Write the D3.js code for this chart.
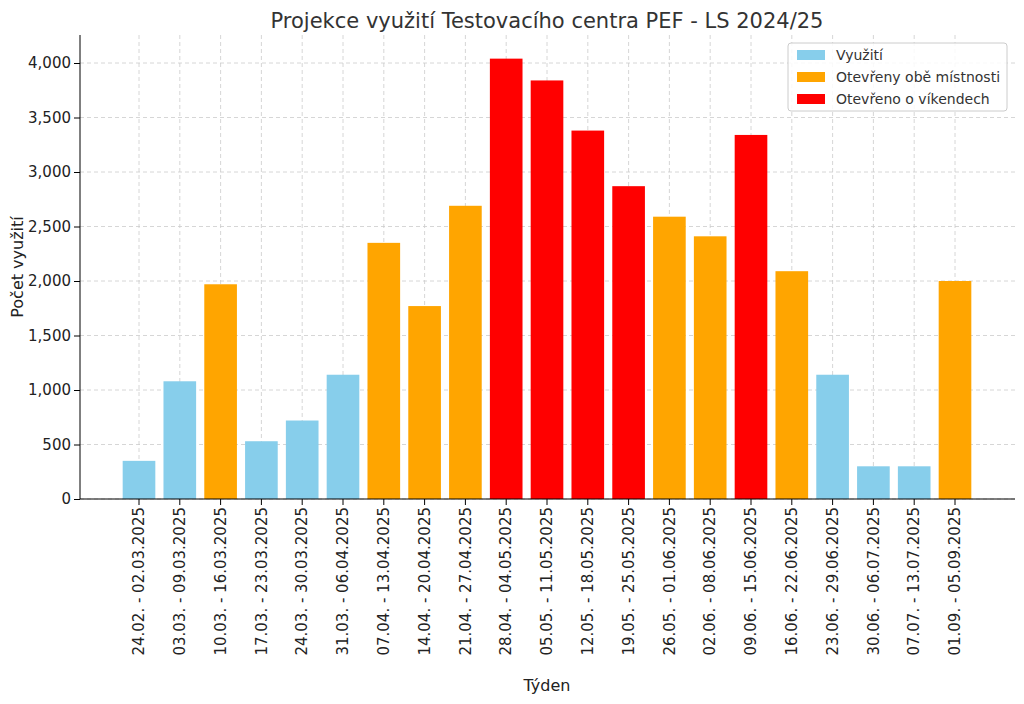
<!DOCTYPE html><html><head><meta charset="utf-8"><script src="https://cdn.jsdelivr.net/npm/d3@7"></script>
<style>body{margin:0;background:#fff}text{font-family:"DejaVu Sans",sans-serif}</style></head><body><svg id="c" width="1024" height="704"></svg><script>
const weeks=["24.02. - 02.03.2025","03.03. - 09.03.2025","10.03. - 16.03.2025","17.03. - 23.03.2025","24.03. - 30.03.2025","31.03. - 06.04.2025","07.04. - 13.04.2025","14.04. - 20.04.2025","21.04. - 27.04.2025","28.04. - 04.05.2025","05.05. - 11.05.2025","12.05. - 18.05.2025","19.05. - 25.05.2025","26.05. - 01.06.2025","02.06. - 08.06.2025","09.06. - 15.06.2025","16.06. - 22.06.2025","23.06. - 29.06.2025","30.06. - 06.07.2025","07.07. - 13.07.2025","01.09. - 05.09.2025"];
const usage=[350,1080,1970,530,720,1140,2350,1770,2690,4040,3840,3380,2870,2590,2410,3340,2090,1140,300,300,2000];
const category=[0,0,1,0,0,0,1,1,1,2,2,2,2,1,1,2,1,0,0,0,1];
const legendLabels=["Využití","Otevřeny obě místnosti","Otevřeno o víkendech"];
const colors=["#87CEEB","#FFA500","#FF0000"];
const yTicks=[0,500,1000,1500,2000,2500,3000,3500,4000];
const svg=d3.select("#c");
const L=80,R=1015,T=35,B=499;
const x=d3.scaleBand().domain(weeks).range([118.6,975.4]).paddingInner(0.2).paddingOuter(0.1);
const y=d3.scaleLinear().domain([0,4000]).range([B,63]);
const yTop=y.invert(T);
// grid
svg.append("g").selectAll("line").data(yTicks).join("line").attr("x1",L).attr("x2",R).attr("y1",d=>y(d)).attr("y2",d=>y(d)).attr("stroke","#ccc").attr("stroke-dasharray","4,3").attr("stroke-width",0.8);
svg.append("g").selectAll("line").data(weeks).join("line").attr("x1",d=>x(d)+x.bandwidth()/2).attr("x2",d=>x(d)+x.bandwidth()/2).attr("y1",T).attr("y2",B).attr("stroke","#ccc").attr("stroke-dasharray","4,3").attr("stroke-width",0.8);
svg.append("g").selectAll("rect").data(weeks).join("rect").attr("x",d=>x(d)).attr("width",x.bandwidth()).attr("y",(d,i)=>y(usage[i])).attr("height",(d,i)=>B-y(usage[i])).attr("fill",(d,i)=>colors[category[i]]);
const ya=svg.append("g").attr("transform",`translate(${L},0)`).call(d3.axisLeft(y).tickValues(yTicks).tickSizeOuter(0));
ya.select(".domain").attr("d",`M0,${B}V${T}`);
ya.selectAll("text").attr("font-size",15).attr("fill","#222");
const xa=svg.append("g").attr("transform",`translate(0,${B})`).call(d3.axisBottom(x).tickSizeOuter(0));
xa.select(".domain").attr("d",`M${L},0H${R}`);
xa.selectAll("text").attr("font-size",15).attr("fill","#222").attr("transform","rotate(-90)").attr("text-anchor","end").attr("dx","-8").attr("dy","0.35em").attr("y",0).attr("x",0);
svg.append("text").attr("x",547).attr("y",28).attr("text-anchor","middle").attr("font-size",21).attr("fill","#333").text("Projekce využití Testovacího centra PEF - LS 2024/25");
svg.append("text").attr("x",547).attr("y",691).attr("text-anchor","middle").attr("font-size",16).attr("fill","#222").text("Týden");
svg.append("text").attr("transform","translate(23,267) rotate(-90)").attr("text-anchor","middle").attr("font-size",16).attr("fill","#222").text("Počet využití");
const lg=svg.append("g").attr("transform","translate(788,43)");
lg.append("rect").attr("width",219).attr("height",68).attr("rx",3).attr("fill","#fff").attr("fill-opacity",0.85).attr("stroke","#ccc");
legendLabels.forEach((t,i)=>{lg.append("rect").attr("x",9).attr("y",7+i*22).attr("width",28).attr("height",10).attr("fill",colors[i]);
lg.append("text").attr("x",48).attr("y",17+i*22).attr("font-size",14).attr("fill","#333").text(t);});
</script></body></html>
